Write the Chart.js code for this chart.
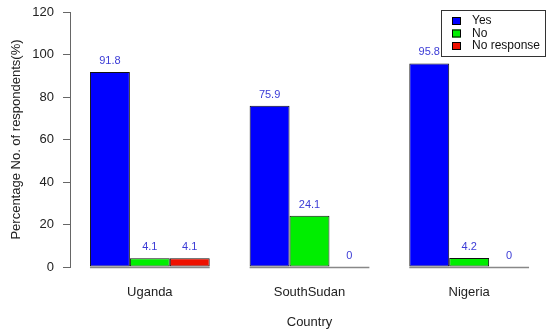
<!DOCTYPE html>
<html>
<head>
<meta charset="utf-8">
<script src="https://cdn.jsdelivr.net/npm/chart.js@4"></script>
<style>
  html, body { margin: 0; padding: 0; background: #fff; }
  #wrap { width: 550px; height: 334px; }
</style>
</head>
<body>
<div id="wrap"><canvas id="bar-chart"></canvas></div>
<script>
// data
const countries = ["Uganda", "SouthSudan", "Nigeria"];
const yesValues = [91.8, 75.9, 95.8];
const noValues = [4.1, 24.1, 4.2];
const noResponseValues = [4.1, 0, 0];
const yTicks = [0, 20, 40, 60, 80, 100, 120];

const FONT = "'Liberation Sans', Arial, sans-serif";
Chart.defaults.font.family = FONT;

// grey baseline under each group of bars
const baselinePlugin = {
  id: "baselines",
  beforeDatasetsDraw(chart) {
    const ctx = chart.ctx;
    const x = chart.scales.x;
    const y0 = chart.scales.y.getPixelForValue(0);
    const half = (x.width / countries.length) * 0.75 / 2;
    ctx.save();
    ctx.strokeStyle = "#888";
    ctx.lineWidth = 1.5;
    countries.forEach((c, i) => {
      const cx = x.getPixelForValue(i);
      ctx.beginPath();
      ctx.moveTo(cx - half, y0 + 0.5);
      ctx.lineTo(cx + half, y0 + 0.5);
      ctx.stroke();
    });
    ctx.restore();
  },
};

// value labels above bars + the boxed legend in the corner
const labelPlugin = {
  id: "valueLabels",
  afterDatasetsDraw(chart) {
    const ctx = chart.ctx;
    ctx.save();
    ctx.font = "11px " + FONT;
    ctx.fillStyle = "#3b3bd6";
    ctx.textAlign = "center";
    ctx.textBaseline = "middle";
    chart.data.datasets.forEach((ds, di) => {
      const meta = chart.getDatasetMeta(di);
      meta.data.forEach((bar, i) => {
        ctx.fillText(String(ds.data[i]), bar.x, bar.y - 11);
      });
    });

    // legend
    ctx.fillStyle = "#fff";
    ctx.fillRect(441, 10, 104, 46);
    ctx.strokeStyle = "#333";
    ctx.lineWidth = 1;
    ctx.strokeRect(441.5, 10.5, 104, 46);
    ctx.font = "12px " + FONT;
    ctx.textAlign = "left";
    chart.data.datasets.forEach((ds, di) => {
      const yc = 21 + di * 12.5;
      ctx.fillStyle = ds.backgroundColor;
      ctx.fillRect(452, yc - 4, 9, 8);
      ctx.strokeStyle = "#000";
      ctx.strokeRect(452.5, yc - 3.5, 8, 7);
      ctx.fillStyle = "#111";
      ctx.fillText(ds.label, 472, yc);
    });
    ctx.restore();
  },
};

const ctx = document.getElementById("bar-chart").getContext("2d");
new Chart(ctx, {
  type: "bar",
  data: {
    labels: countries,
    datasets: [
      { label: "Yes", data: yesValues, backgroundColor: "#0000ff" },
      { label: "No", data: noValues, backgroundColor: "#00ee00" },
      { label: "No response", data: noResponseValues, backgroundColor: "#ee1100" },
    ].map((d) => Object.assign(d, {
      borderColor: "#111",
      borderWidth: 1,
      borderSkipped: false,
      barPercentage: 1.0,
      categoryPercentage: 0.75,
    })),
  },
  options: {
    responsive: true,
    maintainAspectRatio: false,
    animation: false,
    layout: { padding: { top: 12, right: 1, left: 0, bottom: 0 } },
    plugins: {
      legend: { display: false },
      tooltip: { enabled: false },
    },
    scales: {
      x: {
        grid: { display: false },
        border: { display: false },
        ticks: { color: "#222", font: { size: 13 }, padding: 10 },
        title: {
          display: true,
          text: "Country",
          color: "#222",
          font: { size: 13 },
          padding: { top: 10 },
        },
        afterFit(scale) {
          scale.height = 67;
          scale.paddingLeft = 0;
          scale.paddingRight = 0;
        },
      },
      y: {
        min: 0,
        max: 120,
        afterBuildTicks(scale) {
          scale.ticks = yTicks.map((v) => ({ value: v }));
        },
        grid: {
          drawOnChartArea: false,
          drawTicks: true,
          tickLength: 7,
          color: "#666",
        },
        border: { display: true, color: "#666", width: 1 },
        ticks: { color: "#222", font: { size: 13 }, padding: 9 },
        title: {
          display: true,
          text: "Percentage No. of respondents(%)",
          color: "#222",
          font: { size: 13 },
          padding: { top: 9, bottom: 0 },
        },
        afterFit(scale) {
          scale.width = 70;
          scale.paddingTop = 0;
          scale.paddingBottom = 0;
        },
      },
    },
  },
  plugins: [baselinePlugin, labelPlugin],
});
</script>
</body>
</html>
